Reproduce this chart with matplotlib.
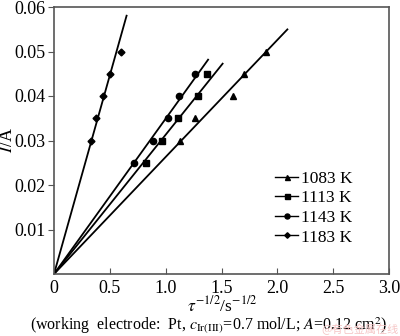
import matplotlib
matplotlib.use("Agg")
import matplotlib.pyplot as plt
import numpy as np
from matplotlib.lines import Line2D

plt.rcParams['font.family'] = ['Liberation Serif', 'DejaVu Serif']
plt.rcParams['mathtext.fontset'] = 'stix'

labels = ["1083 K", "1113 K", "1143 K", "1183 K"]
markers = ["^", "s", "o", "D"]
msizes = [4.5, 4.5, 4.5, 3.5]

x_1083 = [1.125, 1.26, 1.60, 1.70, 1.90]
y_1083 = [0.030, 0.035, 0.040, 0.045, 0.050]
x_1113 = [0.82, 0.97, 1.11, 1.29, 1.37]
y_1113 = [0.025, 0.030, 0.035, 0.040, 0.045]
x_1143 = [0.72, 0.89, 1.02, 1.12, 1.26]
y_1143 = [0.025, 0.030, 0.035, 0.040, 0.045]
x_1183 = [0.33, 0.375, 0.44, 0.50, 0.60]
y_1183 = [0.030, 0.035, 0.040, 0.045, 0.050]

slopes = [0.0263, 0.0313, 0.0349, 0.0893]
line_end_x = [2.09, 1.51, 1.38, 0.65]

xs = [x_1083, x_1113, x_1143, x_1183]
ys = [y_1083, y_1113, y_1143, y_1183]

fig = plt.figure(figsize=(4.0, 3.36), dpi=100)
ax = fig.add_axes([54/400, 1-274/336, 335/400, 267/336])

for xd, yd, m, ms, s, xe in zip(xs, ys, markers, msizes, slopes, line_end_x):
    xl = np.array([0, xe])
    ax.plot(xl, s*xl, color='black', lw=1.3)
    ax.plot(xd, yd, linestyle='none', marker=m, color='black', ms=ms)

handles = [Line2D([0], [0], color='black', lw=1.0, marker=m, ms=ms*0.8,
                  markevery=[0]) for m, ms in zip(markers, msizes)]
ax.legend(handles, labels, loc='upper left', bbox_to_anchor=(0.635, 0.42),
          frameon=False, fontsize=12.5, handlelength=1.3, handletextpad=0.15,
          labelspacing=0.2, borderpad=0, markerfirst=True)

ax.set_xlim(0, 3.0)
ax.set_ylim(0, 0.06)
ax.set_xticks([0, 0.5, 1.0, 1.5, 2.0, 2.5, 3.0])
ax.set_xticklabels(["0", "0.5", "1.0", "1.5", "2.0", "2.5", "3.0"])
ax.set_yticks([0.01, 0.02, 0.03, 0.04, 0.05, 0.06])
ax.set_yticklabels(["0.01", "0.02", "0.03", "0.04", "0.05", "0.06"])
ax.tick_params(axis='x', direction='in', length=4, labelsize=13, pad=4, color='#555555')
ax.tick_params(axis='y', direction='out', length=4, labelsize=13, pad=2, color='#555555')
for sp in ax.spines.values():
    sp.set_color('#555555')
    sp.set_linewidth(1.2)

fig.text(222/400, 1-305/336, r'$\tau^{-1/2}$/s$^{-1/2}$', ha='center', va='center', fontsize=12.5)
fig.text(8/400, 1-140/336, r'$I$/A', ha='center', va='center', rotation=90, fontsize=13)
fig.text(30/400, 1-326/336,
         r'(working  electrode:  Pt, $c_{\mathrm{Ir(III)}}$=0.7 mol/L; $A$=0.12 cm$^2$)',
         ha='left', va='center', fontsize=11.5)
fig.text(399/400, 1-329/336, '@有色金属在线', ha='right', va='center', fontsize=8,
         color='#f5c6c6', family=['Noto Sans CJK SC', 'DejaVu Sans'])

fig.savefig('out.png', dpi=100)
